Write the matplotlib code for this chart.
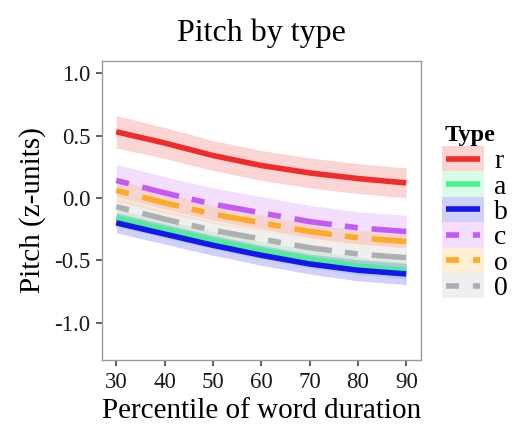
import matplotlib
matplotlib.use("Agg")
import matplotlib.pyplot as plt
from matplotlib.lines import Line2D
from matplotlib.patches import Rectangle

plt.rcParams["font.family"] = ["Liberation Serif", "DejaVu Serif"]

# Percentile of word duration
percentile = [30, 40, 50, 60, 70, 80, 90]

# Fitted pitch (z-units) per type
types = ["r", "a", "b", "c", "o", "0"]
fit_r = [0.53, 0.44, 0.34, 0.26, 0.20, 0.155, 0.12]
fit_a = [-0.16, -0.25, -0.34, -0.42, -0.49, -0.545, -0.58]
fit_b = [-0.20, -0.29, -0.38, -0.46, -0.53, -0.58, -0.61]
fit_c = [0.14, 0.04, -0.05, -0.12, -0.19, -0.24, -0.27]
fit_o = [0.06, -0.04, -0.13, -0.20, -0.27, -0.32, -0.35]
fit_0 = [-0.07, -0.17, -0.26, -0.33, -0.40, -0.45, -0.48]

# Half-width of the confidence band per type
ci_r = [0.13, 0.125, 0.12, 0.12, 0.12, 0.12, 0.12]
ci_a = [0.07, 0.07, 0.07, 0.07, 0.07, 0.07, 0.07]
ci_b = [0.08, 0.08, 0.08, 0.08, 0.08, 0.085, 0.085]
ci_c = [0.13, 0.13, 0.13, 0.13, 0.13, 0.13, 0.13]
ci_o = [0.09, 0.08, 0.07, 0.065, 0.06, 0.06, 0.06]
ci_0 = [0.07, 0.07, 0.07, 0.07, 0.07, 0.07, 0.07]

fits = [fit_r, fit_a, fit_b, fit_c, fit_o, fit_0]
cis = [ci_r, ci_a, ci_b, ci_c, ci_o, ci_0]
colors = ["#EE2C2C", "#4EEE94", "#1515EE", "#C45AF5", "#FFAA22", "#AFAFAF"]
twodash = (0, (2.35, 2.5, 6.8, 2.35))
styles = ["solid", "solid", "solid", twodash, twodash, twodash]
LW = 4.0
BAND_ALPHA = 0.2

W, H = 515, 428
fig = plt.figure(figsize=(W / 100, H / 100), dpi=100)
ax = fig.add_axes([101.7 / W, 1 - 360 / H, (420.7 - 101.7) / W, (360 - 60.7) / H])

for fit, ci, col in zip(fits, cis, colors):
    lo = [f - c for f, c in zip(fit, ci)]
    hi = [f + c for f, c in zip(fit, ci)]
    ax.fill_between(percentile, lo, hi, color=col, alpha=BAND_ALPHA, lw=0)

for fit, col, ls in zip(fits, colors, styles):
    ax.plot(percentile, fit, color=col, lw=LW, ls=ls, solid_capstyle="butt",
            dash_capstyle="butt")

ax.set_xlim(27, 93)
ax.set_ylim(-1.3, 1.1)
ax.set_xticks([30, 40, 50, 60, 70, 80, 90])
ax.set_yticks([1.0, 0.5, 0.0, -0.5, -1.0])
ax.set_yticklabels(["1.0", "0.5", "0.0", "-0.5", "-1.0"])
ax.tick_params(axis="both", length=4, width=1.1, color="#333333",
               labelsize=16.5, labelcolor="#1a1a1a")
ax.tick_params(axis="x", pad=5)
ax.tick_params(axis="y", pad=4)
for s in ax.spines.values():
    s.set_color("#9a9a9a")
    s.set_linewidth(1.0)

ax.set_xlabel("Percentile of word duration", fontsize=21, labelpad=3)
ax.set_ylabel("Pitch (z-units)", fontsize=21, labelpad=6)
ax.set_title("Pitch by type", fontsize=23, pad=14)

# Legend drawn as key boxes with band fill and line sample
def fx(px):
    return px / W

def fy(py):
    return 1 - py / H

fig.text(fx(445), fy(141), "Type", fontsize=17.5, fontweight="bold",
         ha="left", va="baseline")
key_top = 146.0
key_h = 25.4
for i, (lab, col, ls) in enumerate(zip(types, colors, styles)):
    y0 = key_top + i * key_h
    fig.add_artist(Rectangle((fx(442), fy(y0 + key_h)), fx(484) - fx(442),
                             key_h / H, transform=fig.transFigure,
                             facecolor=col, alpha=BAND_ALPHA, lw=0))
    yc = fy(y0 + key_h / 2)
    fig.add_artist(Line2D([fx(446), fx(480)], [yc, yc], transform=fig.transFigure,
                          color=col, lw=LW, ls=ls, solid_capstyle="butt",
                          dash_capstyle="butt"))
    fig.text(fx(494), yc, lab, fontsize=20, ha="left", va="center_baseline")

fig.savefig("out.png", dpi=100, facecolor="white")
